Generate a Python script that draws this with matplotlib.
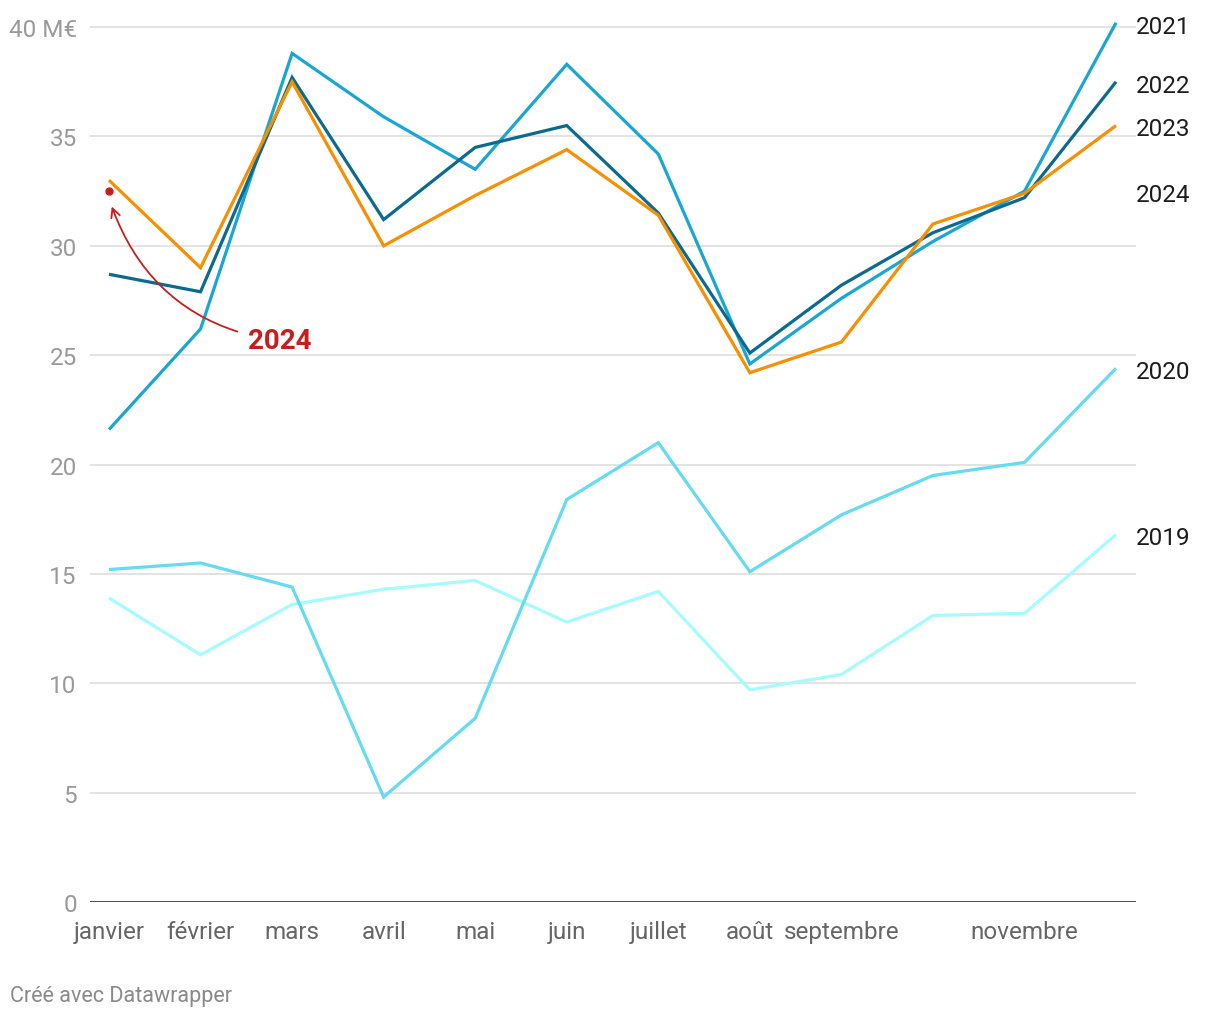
import matplotlib.pyplot as plt
import numpy as np

plt.rcParams['font.family'] = ['Roboto', 'DejaVu Sans']

# Monthly values in M€
months = ['janvier', 'février', 'mars', 'avril', 'mai', 'juin',
          'juillet', 'août', 'septembre', 'octobre', 'novembre', 'décembre']
shown_months = ['janvier', 'février', 'mars', 'avril', 'mai', 'juin',
                'juillet', 'août', 'septembre', '', 'novembre', '']

v2019 = [13.9, 11.3, 13.6, 14.3, 14.7, 12.8, 14.2, 9.7, 10.4, 13.1, 13.2, 16.8]
v2020 = [15.2, 15.5, 14.4, 4.8, 8.4, 18.4, 21.0, 15.1, 17.7, 19.5, 20.1, 24.4]
v2021 = [21.6, 26.2, 38.8, 35.9, 33.5, 38.3, 34.2, 24.6, 27.6, 30.2, 32.5, 40.2]
v2022 = [28.7, 27.9, 37.7, 31.2, 34.5, 35.5, 31.5, 25.1, 28.2, 30.6, 32.2, 37.5]
v2023 = [33.0, 29.0, 37.5, 30.0, 32.3, 34.4, 31.4, 24.2, 25.6, 31.0, 32.4, 35.5]
v2024 = [32.5]

series = [
    ('2019', v2019, '#a6fbff'),
    ('2020', v2020, '#66dbef'),
    ('2021', v2021, '#1aa6d2'),
    ('2022', v2022, '#0b6a8e'),
    ('2023', v2023, '#f88f00'),
]

fig = plt.figure(figsize=(12.2, 10.2), dpi=100)
ax = fig.add_axes([90 / 1220, 1 - 903 / 1020, (1136 - 90) / 1220, (903 - 15) / 1020])

x = np.arange(len(months))
for name, vals, color in series:
    ax.plot(x[:len(vals)], vals, color=color, lw=2.3, solid_joinstyle='miter',
            solid_capstyle='butt', zorder=3)
    ax.text(11.218, vals[-1] - 0.15, name, fontsize=17.5, color='#1d1d1d',
            va='center', ha='left', clip_on=False)

# 2024: only january so far
ax.plot(x[:len(v2024)], v2024, 'o', color='#c71e1d', ms=5, zorder=4)
ax.text(11.218, v2024[-1] - 0.15, '2024', fontsize=17.5, color='#1d1d1d',
        va='center', ha='left')

ax.annotate('2024', xy=(0.03, 31.8), xytext=(1.52, 25.65),
            fontsize=20, fontweight='bold', color='#c71e1d', va='center', ha='left',
            arrowprops=dict(arrowstyle='->', color='#c71e1d', lw=1.3,
                            connectionstyle='arc3,rad=-0.3',
                            shrinkA=6, shrinkB=0, mutation_scale=16))

ax.set_xlim(-0.2075, 11.218)
ax.set_ylim(0, 40.6)

yt = [0, 5, 10, 15, 20, 25, 30, 35, 40]
ax.set_yticks(yt)
ax.set_yticklabels([str(t) for t in yt[:-1]] + ['40 M€'], fontsize=17.5, color='#9a9a9a')
ax.set_xticks(x)
ax.set_xticklabels(shown_months, fontsize=17.5, color='#666666')
ax.tick_params(axis='both', length=0)
ax.tick_params(axis='y', pad=9.5)
ax.tick_params(axis='x', pad=13)

for t in yt[1:]:
    ax.axhline(t, color='#e3e3e3', lw=1.4, zorder=1)
ax.axhline(0, color='#1a1a1a', lw=1.8, zorder=2)

for s in ax.spines.values():
    s.set_visible(False)

fig.text(10 / 1220, 1 - 997 / 1020, 'Créé avec Datawrapper', fontsize=15.5,
         color='#8a8a8a', va='center', ha='left')

fig.savefig('out.png', dpi=100)
